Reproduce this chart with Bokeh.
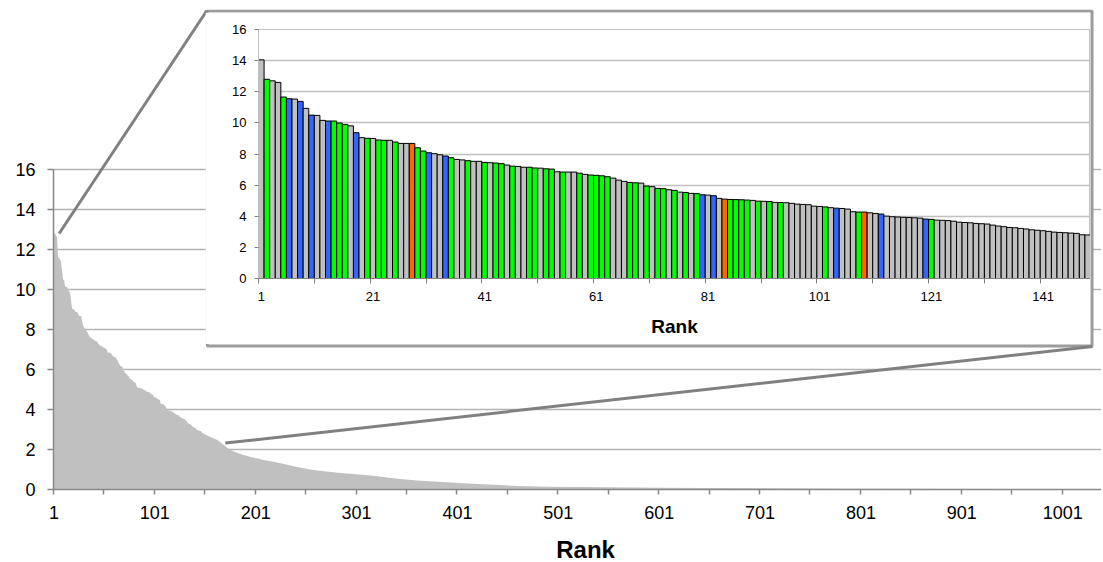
from bokeh.plotting import figure
from bokeh.models import Range1d, FixedTicker, Label, ColumnDataSource
from bokeh.layouts import column
from bokeh.embed import file_html
from bokeh.resources import INLINE

FONT = "Liberation Sans"

# ---------------- data ----------------
# inset: ranks 1..149, coloured by class (G gray, N green, B blue, O orange)
inset_values = [
    14.05, 12.8, 12.7, 12.6, 11.66, 11.55, 11.53, 11.38, 10.93, 10.5,
    10.48, 10.16, 10.12, 10.12, 9.99, 9.9, 9.81, 9.37, 9.05, 9.01,
    9.0, 8.9, 8.88, 8.88, 8.77, 8.68, 8.68, 8.68, 8.4, 8.19,
    8.08, 8.02, 7.95, 7.87, 7.76, 7.65, 7.62, 7.57, 7.53, 7.53,
    7.46, 7.44, 7.42, 7.38, 7.29, 7.22, 7.2, 7.15, 7.15, 7.1,
    7.09, 7.05, 7.03, 6.86, 6.84, 6.84, 6.84, 6.77, 6.69, 6.65,
    6.63, 6.6, 6.54, 6.45, 6.32, 6.24, 6.17, 6.15, 6.13, 5.94,
    5.9, 5.79, 5.77, 5.7, 5.66, 5.55, 5.53, 5.47, 5.45, 5.38,
    5.36, 5.32, 5.15, 5.1, 5.08, 5.07, 5.06, 5.04, 5.02, 4.97,
    4.96, 4.95, 4.89, 4.88, 4.87, 4.83, 4.78, 4.76, 4.74, 4.65,
    4.63, 4.6, 4.55, 4.52, 4.5, 4.46, 4.29, 4.27, 4.27, 4.22,
    4.18, 4.14, 4.01, 3.97, 3.95, 3.93, 3.92, 3.9, 3.88, 3.82,
    3.8, 3.75, 3.74, 3.72, 3.68, 3.62, 3.6, 3.58, 3.54, 3.52,
    3.5, 3.43, 3.37, 3.33, 3.28, 3.26, 3.22, 3.18, 3.13, 3.1,
    3.07, 3.03, 2.98, 2.96, 2.94, 2.92, 2.9, 2.81, 2.8,
]
inset_class = [
    "G", "N", "G", "G", "N", "B", "G", "B", "G", "B",
    "G", "G", "B", "N", "N", "N", "G", "B", "G", "N",
    "G", "N", "N", "G", "N", "G", "G", "O", "N", "N",
    "B", "G", "G", "B", "N", "G", "G", "N", "G", "G",
    "N", "G", "N", "N", "G", "N", "G", "G", "N", "N",
    "G", "N", "N", "G", "N", "G", "G", "N", "G", "N",
    "N", "N", "N", "G", "G", "G", "N", "N", "G", "N",
    "G", "N", "N", "G", "N", "G", "N", "G", "N", "B",
    "G", "B", "G", "O", "N", "N", "N", "N", "G", "N",
    "G", "N", "G", "N", "G", "G", "G", "G", "G", "G",
    "G", "N", "G", "B", "G", "G", "G", "N", "O", "G",
    "G", "B", "G", "G", "G", "G", "G", "G", "G", "B",
    "N", "G", "G", "G", "G", "G", "G", "G", "G", "G",
    "G", "G", "G", "G", "G", "G", "G", "G", "G", "G",
    "G", "G", "G", "G", "G", "G", "G", "G", "G",
]
inset_rank = list(range(1, len(inset_values) + 1))

# main chart tail (ranks beyond the inset)
tail_rank = [150, 156, 163, 170, 173, 178, 186, 196, 209, 220, 229, 242, 252,
             262, 285, 315, 344, 361, 394, 426, 459, 492, 525, 600, 695, 790,
             950, 1038]
tail_value = [2.78, 2.62, 2.47, 2.2, 2.08, 1.92, 1.78, 1.62, 1.48, 1.38, 1.28,
              1.12, 1.03, 0.95, 0.82, 0.70, 0.53, 0.45, 0.35, 0.26, 0.18, 0.14,
              0.12, 0.09, 0.06, 0.04, 0.02, 0.01]

# the main curve starts at the level of rank 2 (rank 1 spike not visible there)
main_rank = [1] + inset_rank[1:] + tail_rank
main_value = [inset_values[1]] + inset_values[1:] + tail_value

main_x_labels = [1, 101, 201, 301, 401, 501, 601, 701, 801, 901, 1001]
inset_x_labels = [1, 21, 41, 61, 81, 101, 121, 141]
y_ticks = [0, 2, 4, 6, 8, 10, 12, 14, 16]

# zoom window anchors on the main curve
zoom_from = (6.1, 12.8)
zoom_to = (170.8, 2.32)

class_color = {"G": "#c0c0c0", "N": "#00ff00", "B": "#3366ff", "O": "#ff6600"}

# ---------------- main figure ----------------
W, H = 1101, 560
ML, MT, MB = 49, 9, 71
FW, FH = W - ML, H - MT - MB
X0 = 0.5
X1 = X0 + FW / 1.0125
Y1 = 24.0


def mx(px):  # canvas pixel -> main data x
    return X0 + (px - ML) / FW * (X1 - X0)


def my(py):  # canvas pixel -> main data y
    return Y1 * (1 - (py - MT) / FH)


main = figure(width=W, height=H, output_backend="svg", toolbar_location=None,
              x_range=Range1d(X0, X1), y_range=Range1d(0, Y1),
              min_border_left=ML, min_border_right=0, min_border_top=MT,
              min_border_bottom=MB)
main.outline_line_color = None
main.xgrid.visible = False
main.ygrid.ticker = FixedTicker(ticks=y_ticks[1:])
main.ygrid.grid_line_color = "#b4b4b4"
main.ygrid.grid_line_width = 1.5

main.varea(x=main_rank, y1=0, y2=main_value, fill_color="#c0c0c0")

yax = main.yaxis[0]
yax.ticker = FixedTicker(ticks=y_ticks)
yax.bounds = (0, 16)
yax.axis_line_color = "#888888"
yax.axis_line_width = 1.5
yax.major_tick_line_color = "#888888"
yax.major_tick_line_width = 1.5
yax.major_tick_out = 6
yax.major_tick_in = 0
yax.minor_tick_line_color = None
yax.major_label_standoff = 12
yax.major_label_text_font = FONT
yax.major_label_text_font_size = "18px"
yax.major_label_text_color = "#000000"

xax = main.xaxis[0]
xax.ticker = FixedTicker(ticks=main_x_labels,
                         minor_ticks=[0.5 + 50 * k for k in range(21)])
xax.axis_line_color = "#888888"
xax.axis_line_width = 1.5
xax.major_tick_line_color = None
xax.major_tick_out = 5
xax.minor_tick_line_color = "#888888"
xax.minor_tick_line_width = 1.5
xax.minor_tick_out = 5
xax.minor_tick_in = 0
xax.major_label_standoff = 11
xax.major_label_text_font = FONT
xax.major_label_text_font_size = "18px"
xax.major_label_text_color = "#000000"

# inset frame (drawn on the main canvas, inset plot sits inside it)
main.quad(left=mx(203.5), right=mx(1091.5), top=my(10.5), bottom=my(345.5),
          fill_color="white", line_color="#9c9c9c", line_width=3)
# connecting lines
main.line(x=[zoom_from[0], mx(203)], y=[zoom_from[1], my(10)],
          line_color="#808080", line_width=3)
main.line(x=[zoom_to[0], mx(1092)], y=[zoom_to[1], my(346)],
          line_color="#808080", line_width=3)

# ---------------- inset figure ----------------
IW, IH = 885, 332
IX, IY = 205, 12
IL, IT, IB = 53, 17, 66
inset = figure(width=IW, height=IH, output_backend="svg", toolbar_location=None,
               x_range=Range1d(0.5, len(inset_values) + 0.5),
               y_range=Range1d(0, 16),
               min_border_left=IL, min_border_right=0, min_border_top=IT,
               min_border_bottom=IB)
inset.margin = (IY - H, 0, 0, IX)
inset.outline_line_color = "#c0c0c0"
inset.outline_line_width = 1
inset.xgrid.visible = False
inset.ygrid.ticker = FixedTicker(ticks=y_ticks[1:])
inset.ygrid.grid_line_color = "#c0c0c0"
inset.ygrid.grid_line_width = 1.5

src = ColumnDataSource(dict(rank=inset_rank, value=inset_values,
                            color=[class_color[c] for c in inset_class]))
inset.vbar(x="rank", top="value", width=1.0, source=src, fill_color="color",
           line_color="black", line_width=1)

iy = inset.yaxis[0]
iy.ticker = FixedTicker(ticks=y_ticks)
iy.axis_line_color = "#c0c0c0"
iy.major_tick_line_color = "#808080"
iy.major_tick_out = 4
iy.major_tick_in = 0
iy.minor_tick_line_color = None
iy.major_label_standoff = 8
iy.major_label_text_font = FONT
iy.major_label_text_font_size = "13px"
iy.major_label_text_color = "#000000"

ix = inset.xaxis[0]
ix.ticker = FixedTicker(ticks=inset_x_labels,
                        minor_ticks=[0.5 + 10 * k for k in range(15)])
ix.axis_line_color = "#808080"
ix.major_tick_line_color = None
ix.major_tick_out = 5
ix.minor_tick_line_color = "#808080"
ix.minor_tick_out = 5
ix.minor_tick_in = 0
ix.major_label_standoff = 8
ix.major_label_text_font = FONT
ix.major_label_text_font_size = "13px"
ix.major_label_text_color = "#000000"
ix.axis_label = "Rank"
ix.axis_label_standoff = 12
ix.axis_label_text_font = FONT
ix.axis_label_text_font_size = "19px"
ix.axis_label_text_font_style = "bold"
ix.axis_label_text_color = "#000000"

# ---------------- main axis title (full-width strip) ----------------
LH = 40
LY = 522
lab = figure(width=W, height=LH, output_backend="svg", toolbar_location=None,
             x_range=Range1d(0, W), y_range=Range1d(0, LH),
             x_axis_type=None, y_axis_type=None,
             min_border_left=0, min_border_right=0, min_border_top=0,
             min_border_bottom=0)
lab.outline_line_color = None
lab.grid.visible = False
lab.margin = (LY - (IY + IH), 0, 0, 0)
lab.add_layout(Label(x=559, y=13, text="Rank", text_align="center",
                     text_baseline="alphabetic", text_font=FONT,
                     text_font_size="24px", text_font_style="bold",
                     text_color="#000000"))

layout = column(main, inset, lab)
open("out.html", "w").write(file_html(layout, INLINE))
